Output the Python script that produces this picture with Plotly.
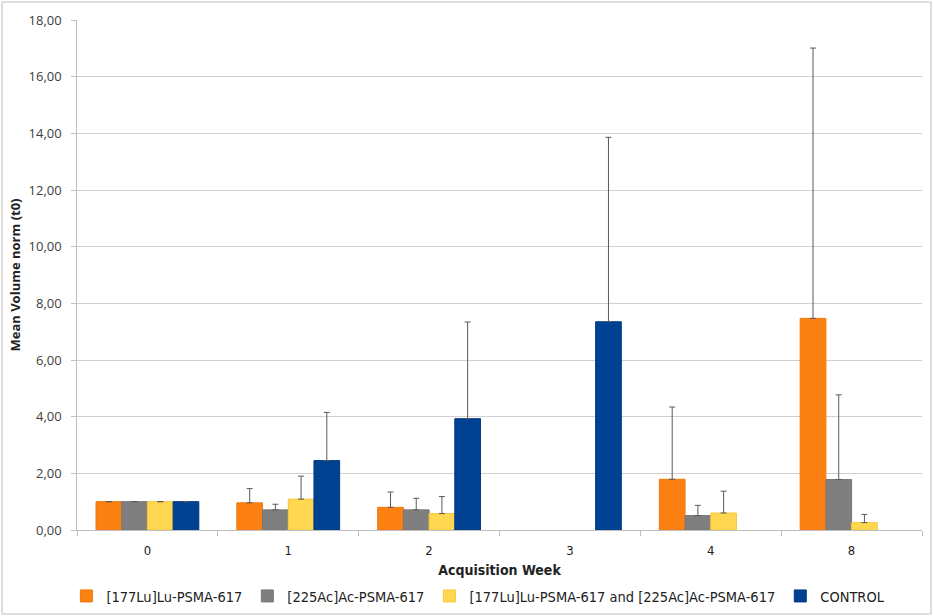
import plotly.graph_objects as go

weeks = ["0", "1", "2", "3", "4", "8"]
series_names = ["[177Lu]Lu-PSMA-617", "[225Ac]Ac-PSMA-617",
                "[177Lu]Lu-PSMA-617 and [225Ac]Ac-PSMA-617", "CONTROL"]
lu_mean = [1.00, 0.96, 0.80, None, 1.79, 7.47]
lu_err = [0.00, 0.50, 0.54, None, 2.55, 9.54]
ac_mean = [1.00, 0.71, 0.71, None, 0.51, 1.78]
ac_err = [0.00, 0.20, 0.41, None, 0.36, 2.99]
combo_mean = [1.00, 1.09, 0.58, None, 0.60, 0.26]
combo_err = [0.00, 0.81, 0.60, None, 0.77, 0.29]
control_mean = [1.00, 2.45, 3.93, 7.35, None, None]
control_err = [0.00, 1.70, 3.41, 6.51, None, None]

colors = ["#FC8112", "#7F7F7F", "#FFD750", "#004291"]
lines = ["#F0780C", "#767676", "#F5C83C", "#003A85"]
means = [lu_mean, ac_mean, combo_mean, control_mean]
errs = [lu_err, ac_err, combo_err, control_err]

narrow = "DejaVu Sans Condensed, Open Sans"

fig = go.Figure()
for name, m, e, c, lc in zip(series_names, means, errs, colors, lines):
    fig.add_trace(go.Bar(
        x=weeks, y=m, name=name,
        marker=dict(color=c, line=dict(color=lc, width=1)),
        error_y=dict(type="data", array=e, arrayminus=[0] * len(e), symmetric=False,
                     color="#5A5A5A", thickness=1, width=3),
    ))

L = 77
fig.update_layout(
    width=933, height=616,
    margin=dict(l=L, r=11, t=20, b=86),
    paper_bgcolor="white", plot_bgcolor="white",
    barmode="group", bargap=0.27, bargroupgap=0,
    separators=",.",
    font=dict(family="Open Sans", color="#404040", size=12),
    showlegend=True,
    legend=dict(orientation="h", x=0.475, xanchor="center",
                yref="container", y=(616 - 596) / 616, yanchor="middle",
                font=dict(size=14.5, family=narrow, color="#222222"),
                itemwidth=30, traceorder="normal", tracegroupgap=0),
    xaxis=dict(
        type="category", showgrid=False, showline=True, linecolor="#BFBFBF", linewidth=1,
        ticks="outside", tickson="boundaries", ticklen=5, tickcolor="#BFBFBF",
        automargin=False, ticklabelstandoff=8,
        tickfont=dict(size=13, family=narrow, color="#222222"),
        title=dict(text="<b>Acquisition Week</b>", standoff=8,
                   font=dict(size=14, family=narrow, color="#222222")),
    ),
    yaxis=dict(
        range=[0, 18], dtick=2, tickformat=".2f", ticksuffix="\u00a0\u00a0",
        showgrid=True, gridcolor="#D0D0D0",
        showline=True, linecolor="#BFBFBF", linewidth=1, ticks="outside", ticklen=5,
        tickcolor="#BFBFBF", zeroline=False, automargin=False,
        tickfont=dict(size=13, family="Open Sans", color="#404040"),
        title=dict(text="<b>Mean Volume norm (t0)</b>", standoff=4,
                   font=dict(size=13, family="Open Sans", color="#222222")),
    ),
    shapes=[dict(type="rect", xref="paper", yref="paper",
                 x0=(2 - L) / (933 - L - 11), x1=(931 - L) / (933 - L - 11),
                 y0=(530 - 614) / 510, y1=(530 - 2) / 510,
                 line=dict(color="#BFBFBF", width=1), fillcolor="rgba(0,0,0,0)", layer="below")],
)

fig.write_html("out.html", config={"displayModeBar": False},
               post_script="document.body.style.margin='0';")
